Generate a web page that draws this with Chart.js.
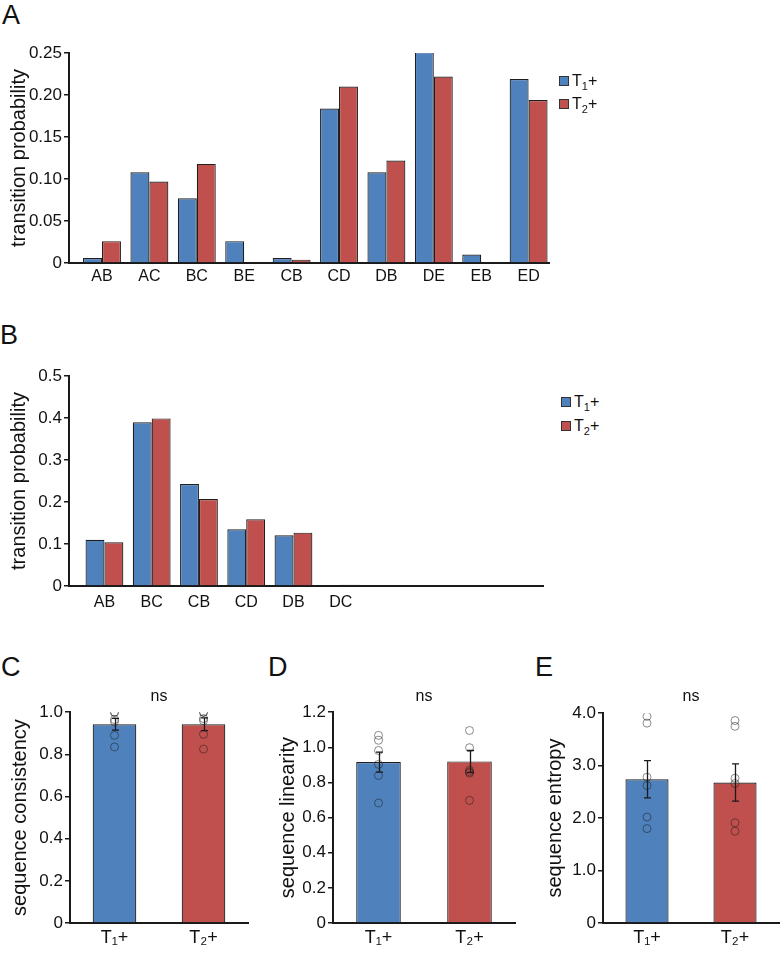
<!DOCTYPE html>
<html>
<head>
<meta charset="utf-8">
<script src="https://cdn.jsdelivr.net/npm/chart.js@4.4.1/dist/chart.umd.min.js"></script>
<style>
html,body{margin:0;padding:0;background:#fff;}
body{width:784px;height:955px;position:relative;overflow:hidden;font-family:"Liberation Sans",Arial,Helvetica,sans-serif;color:#111;}
canvas{position:absolute;}
.letter{position:absolute;font-size:27px;line-height:27px;color:#111;}
.legend{position:absolute;font-size:16px;color:#111;}
.legend .it{display:flex;align-items:center;}
.legend .sw{width:8px;height:8px;border:1px solid #333;margin-right:3px;}
.legend sub{font-size:11px;vertical-align:-4px;line-height:0;}
</style>
</head>
<body>
<div class="letter" style="left:2px;top:2px">A</div>
<div class="letter" style="left:0px;top:322px">B</div>
<div class="letter" style="left:1px;top:654px">C</div>
<div class="letter" style="left:268px;top:654px">D</div>
<div class="letter" style="left:535px;top:654px">E</div>

<canvas id="cA" width="560" height="270" style="left:0;top:30px"></canvas>
<canvas id="cB" width="560" height="290" style="left:0;top:330px"></canvas>
<canvas id="cC" width="260" height="275" style="left:0;top:680px"></canvas>
<canvas id="cD" width="260" height="275" style="left:260px;top:680px"></canvas>
<canvas id="cE" width="264" height="275" style="left:520px;top:680px"></canvas>

<div class="legend" id="legA" style="left:559px;top:69px"></div>
<div class="legend" id="legB" style="left:561px;top:390px"></div>

<script>
// ---------------- data ----------------
const seriesNames = ['T\u2081+', 'T\u2082+'];

const catsA = ['AB', 'AC', 'BC', 'BE', 'CB', 'CD', 'DB', 'DE', 'EB', 'ED'];
const t1A = [0.006, 0.108, 0.077, 0.026, 0.006, 0.184, 0.108, 0.251, 0.010, 0.219];
const t2A = [0.026, 0.097, 0.118, 0, 0.004, 0.210, 0.122, 0.222, 0, 0.194];
const yTicksA = ['0', '0.05', '0.10', '0.15', '0.20', '0.25'];

const catsB = ['AB', 'BC', 'CB', 'CD', 'DB', 'DC'];
const t1B = [0.110, 0.390, 0.243, 0.135, 0.121, 0];
const t2B = [0.104, 0.399, 0.207, 0.159, 0.127, 0.003];
const yTicksB = ['0', '0.1', '0.2', '0.3', '0.4', '0.5'];

const groups = ['T\u2081+', 'T\u2082+'];

const meanC = [0.943, 0.943];
const semC = [0.028, 0.030];
const ptsC1 = [1.0, 1.0, 0.965, 0.955, 0.89, 0.835];
const ptsC2 = [1.0, 1.0, 0.97, 0.96, 0.895, 0.825];
const yTicksC = ['0', '0.2', '0.4', '0.6', '0.8', '1.0'];

const meanD = [0.916, 0.920];
const semD = [0.057, 0.062];
const ptsD1 = [1.068, 1.04, 0.982, 0.903, 0.84, 0.683];
const ptsD2 = [1.096, 0.998, 0.869, 0.86, 0.853, 0.698];
const yTicksD = ['0', '0.2', '0.4', '0.6', '0.8', '1.0', '1.2'];

const meanE = [2.74, 2.68];
const semE = [0.355, 0.355];
const ptsE1 = [3.94, 3.81, 2.78, 2.62, 2.02, 1.80];
const ptsE2 = [3.86, 3.75, 2.76, 2.66, 1.91, 1.75];
const yTicksE = ['0', '1.0', '2.0', '3.0', '4.0'];

// ---------------- styles ----------------
const BLUE = '#4F81BD', RED = '#C0504D', EDGE = '#1f1f1f', AXIS = '#1a1a1a';
const seriesColors = [BLUE, RED];
Chart.defaults.font.family = '"Liberation Sans", Arial, Helvetica, sans-serif';
Chart.defaults.color = '#111';
Chart.defaults.animation = false;

function yScale(labels, max, step, title, width, titlePad) {
  return {
    type: 'linear', min: 0, max: max,
    ticks: { stepSize: step, font: { size: 17 }, color: '#111', padding: 2,
             callback: (v, i) => labels[i] },
    grid: { drawOnChartArea: false, drawTicks: true, tickLength: 5, color: AXIS, lineWidth: 1.5 },
    border: { display: true, color: AXIS, width: 2 },
    title: { display: true, text: title, font: { size: 20 }, color: '#111',
             padding: { top: titlePad, bottom: 0 } },
    afterFit: (s) => { s.width = width; }
  };
}

function groupedChart(id, cats, a, b, yLabels, ymax, step, xmin, xmax, yW, xH, padTop, padRight, labPad) {
  const mk = (arr) => arr.map((v, i) => ({ x: i, y: v }));
  return new Chart(document.getElementById(id), {
    type: 'bar',
    data: {
      datasets: [
        { label: seriesNames[0], data: mk(a), backgroundColor: BLUE, borderColor: EDGE, borderWidth: 1.2,
          categoryPercentage: 0.8, barPercentage: 1.0 },
        { label: seriesNames[1], data: mk(b), backgroundColor: RED, borderColor: EDGE, borderWidth: 1.2,
          categoryPercentage: 0.8, barPercentage: 1.0 }
      ]
    },
    options: {
      responsive: false, animation: false,
      layout: { padding: { top: padTop, right: padRight, left: 0, bottom: 0 } },
      plugins: { legend: { display: false }, tooltip: { enabled: false } },
      scales: {
        x: {
          type: 'linear', min: xmin, max: xmax, offset: false, z: 1,
          ticks: { stepSize: 1, autoSkip: false, maxRotation: 0, includeBounds: false,
                   font: { size: 16 }, color: '#111', padding: labPad,
                   callback: (v) => (Number.isInteger(v) && cats[v] !== undefined) ? cats[v] : '' },
          grid: { display: false, drawTicks: false },
          border: { display: true, color: AXIS, width: 2 },
          afterFit: (s) => { s.height = xH; }
        },
        y: yScale(yLabels, ymax, step, 'transition probability', yW, 7)
      }
    }
  });
}

groupedChart('cA', catsA, t1A, t2A, yTicksA, 0.25, 0.05, -0.696, 9.43, 69, 37, 23, 11, 4);
groupedChart('cB', catsB, t1B, t2B, yTicksB, 0.5, 0.1, -0.75, 9.28, 69, 34, 46, 17, 7);

function errorBars(mean, sem) {
  return {
    id: 'errbars',
    afterDatasetsDraw(chart) {
      const ctx = chart.ctx, x = chart.scales.x, y = chart.scales.y;
      ctx.save();
      ctx.strokeStyle = '#1a1a1a';
      ctx.lineWidth = 1.3;
      mean.forEach((m, i) => {
        const px = Math.round(x.getPixelForValue(i)) + 0.5;
        const yt = y.getPixelForValue(m + sem[i]);
        const yb = y.getPixelForValue(m - sem[i]);
        ctx.beginPath();
        ctx.moveTo(px, yt); ctx.lineTo(px, yb);
        ctx.moveTo(px - 3.5, yt); ctx.lineTo(px + 3.5, yt);
        ctx.moveTo(px - 3.5, yb); ctx.lineTo(px + 3.5, yb);
        ctx.stroke();
      });
      ctx.restore();
    }
  };
}

function summaryChart(id, mean, sem, p1, p2, yLabels, ymax, step, title, yW, titlePad, padRight, nsTop, nsBottom) {
  const pts = p1.map(v => ({ x: groups[0], y: v })).concat(p2.map(v => ({ x: groups[1], y: v })));
  return new Chart(document.getElementById(id), {
    type: 'bar',
    data: {
      labels: groups,
      datasets: [
        { type: 'scatter', data: pts, pointRadius: 4, pointBorderWidth: 1,
          pointBorderColor: 'rgba(25,25,25,0.5)', pointBackgroundColor: 'rgba(0,0,0,0)', order: 0 },
        { type: 'bar', data: mean, backgroundColor: seriesColors, borderColor: EDGE, borderWidth: 1.2,
          categoryPercentage: 0.49, barPercentage: 1.0, order: 1 }
      ]
    },
    plugins: [errorBars(mean, sem)],
    options: {
      responsive: false, animation: false,
      layout: { padding: { top: 0, right: padRight, left: 0, bottom: 0 } },
      plugins: {
        legend: { display: false }, tooltip: { enabled: false },
        title: { display: true, text: 'ns', fullSize: false, color: '#111',
                 font: { size: 16, weight: 'normal' }, padding: { top: nsTop, bottom: nsBottom } }
      },
      scales: {
        x: {
          type: 'category', offset: true, z: 1,
          ticks: { font: { size: 18 }, color: '#111', padding: 4, maxRotation: 0 },
          grid: { display: false, drawTicks: false },
          border: { display: true, color: AXIS, width: 2 },
          afterFit: (s) => { s.height = 32; }
        },
        y: yScale(yLabels, ymax, step, title, yW, titlePad)
      }
    }
  });
}

summaryChart('cC', meanC, semC, ptsC1, ptsC2, yTicksC, 1.0, 0.2, 'sequence consistency', 70, 8, 12, 7, 6);
summaryChart('cD', meanD, semD, ptsD1, ptsD2, yTicksD, 1.2, 0.2, 'sequence linearity', 73, 16, 3, 7, 6);
summaryChart('cE', meanE, semE, ptsE1, ptsE2, yTicksE, 4.0, 1.0, 'sequence entropy', 83, 23, 1, 7, 7);

// ---------------- HTML legends ----------------
// subscript digits of the series names are shown with a <sub> element
const SUBS = {'\u2080':'0','\u2081':'1','\u2082':'2','\u2083':'3','\u2084':'4','\u2085':'5','\u2086':'6','\u2087':'7','\u2088':'8','\u2089':'9'};
function buildLegend(id, rowH) {
  const el = document.getElementById(id);
  seriesNames.forEach((name, i) => {
    const row = document.createElement('div');
    row.className = 'it';
    row.style.height = rowH + 'px';
    const sw = document.createElement('span');
    sw.className = 'sw';
    sw.style.background = seriesColors[i];
    const tx = document.createElement('span');
    for (const ch of name) {
      if (SUBS[ch]) {
        const s = document.createElement('sub');
        s.textContent = SUBS[ch];
        tx.appendChild(s);
      } else {
        tx.appendChild(document.createTextNode(ch));
      }
    }
    row.appendChild(sw); row.appendChild(tx);
    el.appendChild(row);
  });
}
buildLegend('legA', 23);
buildLegend('legB', 24);
</script>
</body>
</html>
